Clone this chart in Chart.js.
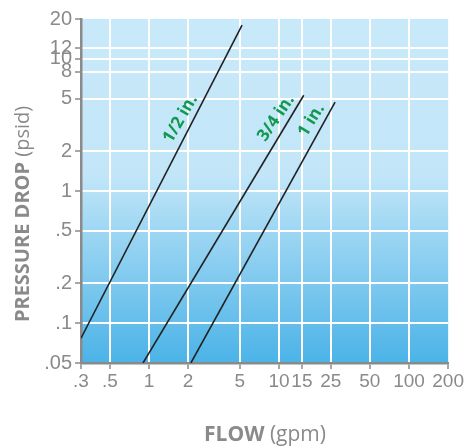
<!DOCTYPE html>
<html>
<head>
<meta charset="utf-8">
<script src="https://cdn.jsdelivr.net/npm/chart.js@4.4.1/dist/chart.umd.min.js"></script>
<style>
  html, body { margin: 0; padding: 0; background: #fff; }
  #wrap { width: 465px; height: 446px; position: relative; }
</style>
</head>
<body>
<div id="wrap"><canvas id="myChart"></canvas></div>
<script>
// axis ticks
const xTicks = [0.3, 0.5, 1, 2, 5, 10, 15, 25, 50, 100, 200];
const xTickLabels = [".3", ".5", "1", "2", "5", "10", "15", "25", "50", "100", "200"];
const yTicks = [0.05, 0.1, 0.2, 0.5, 1, 2, 5, 8, 10, 12, 20];
const yTickLabels = [".05", ".1", ".2", ".5", "1", "2", "5", "8", "10", "12", "20"];

// one line per size: flow (gpm) and pressure drop (psid) at both ends
const sizes = ["1/2 in.", "3/4 in.", "1 in."];
const flowStart = [0.3, 0.9, 2.1];
const flowEnd = [5.2, 15.5, 27];
const dropStart = [0.077, 0.05, 0.05];
const dropEnd = [18, 5.3, 4.7];
const labelDrop = [3.2, 3.2, 3.1]; // where the size label sits along each line

const GREY = "#8a8a8a";
const GREEN = "#12994e";
const TICK_FONT = "'Liberation Sans', Arial, sans-serif";

const datasets = sizes.map((s, i) => ({
  label: s,
  data: [{ x: flowStart[i], y: dropStart[i] }, { x: flowEnd[i], y: dropEnd[i] }],
  showLine: true,
  borderColor: "#222",
  borderWidth: 1.6,
  pointRadius: 0,
}));

const bgPlugin = {
  id: "bg",
  beforeDraw(chart) {
    const { ctx, chartArea: a } = chart;
    const g = ctx.createLinearGradient(0, a.top, 0, a.bottom);
    g.addColorStop(0, "#c8e9fa");
    g.addColorStop(0.45, "#c2e6f8");
    g.addColorStop(1, "#4bb3e7");
    ctx.save();
    ctx.fillStyle = g;
    ctx.fillRect(a.left, a.top, a.right - a.left, a.bottom - a.top);
    ctx.restore();
  },
};

const textPlugin = {
  id: "texts",
  afterDraw(chart) {
    const { ctx } = chart;
    const xs = chart.scales.x, ys = chart.scales.y;

    // size labels along the lines
    ctx.save();
    ctx.fillStyle = GREEN;
    ctx.font = "bold 17px 'Open Sans', sans-serif";
    ctx.textAlign = "center";
    ctx.textBaseline = "middle";
    sizes.forEach((s, i) => {
      const x1 = xs.getPixelForValue(flowStart[i]), y1 = ys.getPixelForValue(dropStart[i]);
      const x2 = xs.getPixelForValue(flowEnd[i]), y2 = ys.getPixelForValue(dropEnd[i]);
      const ang = Math.atan2(y2 - y1, x2 - x1);
      const py = ys.getPixelForValue(labelDrop[i]);
      const px = x1 + (py - y1) * (x2 - x1) / (y2 - y1);
      const off = 12;
      ctx.save();
      ctx.translate(px + Math.sin(ang) * off, py - Math.cos(ang) * off);
      ctx.rotate(ang + 0.05);
      ctx.fillText(s, 0, 0);
      ctx.restore();
    });
    ctx.restore();

    // axis titles with bold + regular parts
    const drawTitle = (bold, normal, size) => {
      ctx.font = "bold " + size + "px 'Open Sans', sans-serif";
      const w1 = ctx.measureText(bold + " ").width;
      ctx.font = size + "px 'Open Sans', sans-serif";
      const w2 = ctx.measureText(normal).width;
      const x = -(w1 + w2) / 2;
      ctx.font = "bold " + size + "px 'Open Sans', sans-serif";
      ctx.fillText(bold + " ", x, 0);
      ctx.font = size + "px 'Open Sans', sans-serif";
      ctx.fillText(normal, x + w1, 0);
    };
    ctx.save();
    ctx.fillStyle = GREY;
    ctx.textAlign = "left";
    ctx.textBaseline = "alphabetic";
    ctx.translate(265, 441);
    drawTitle("FLOW", "(gpm)", 21);
    ctx.restore();

    ctx.save();
    ctx.fillStyle = GREY;
    ctx.textAlign = "left";
    ctx.textBaseline = "alphabetic";
    ctx.translate(29, 214);
    ctx.rotate(-Math.PI / 2);
    drawTitle("PRESSURE DROP", "(psid)", 20);
    ctx.restore();
  },
};

const edgeColor = (ticks) => (c) => {
  const v = c.tick && c.tick.value;
  return v === ticks[0] || v === ticks[ticks.length - 1] ? "rgba(0,0,0,0)" : "#ffffff";
};

new Chart(document.getElementById("myChart"), {
  type: "scatter",
  data: { datasets },
  options: {
    responsive: true,
    maintainAspectRatio: false,
    animation: false,
    layout: { padding: { top: 19, right: 16, left: 0, bottom: 0 } },
    plugins: { legend: { display: false }, tooltip: { enabled: false } },
    scales: {
      x: {
        type: "logarithmic",
        min: 0.3,
        max: 200,
        afterBuildTicks: (s) => { s.ticks = xTicks.map((v) => ({ value: v })); },
        afterFit: (s) => { s.height = 83; },
        ticks: {
          autoSkip: false,
          maxRotation: 0,
          padding: 1,
          color: GREY,
          font: { family: TICK_FONT, size: 19 },
          callback: (v) => xTickLabels[xTicks.indexOf(v)],
        },
        grid: { color: edgeColor(xTicks), lineWidth: 2, tickColor: GREY, tickLength: 6, tickWidth: 1.5 },
        border: { color: GREY, width: 2.5 },
      },
      y: {
        type: "logarithmic",
        min: 0.05,
        max: 20,
        afterBuildTicks: (s) => { s.ticks = yTicks.map((v) => ({ value: v })); },
        afterFit: (s) => { s.width = 81; },
        ticks: {
          autoSkip: false,
          padding: 3,
          color: GREY,
          font: { family: TICK_FONT, size: 20 },
          callback: (v) => yTickLabels[yTicks.indexOf(v)],
        },
        grid: { color: edgeColor(yTicks), lineWidth: 2, tickColor: GREY, tickLength: 6, tickWidth: 1.5 },
        border: { color: GREY, width: 2.5 },
      },
    },
  },
  plugins: [bgPlugin, textPlugin],
});
</script>
</body>
</html>
